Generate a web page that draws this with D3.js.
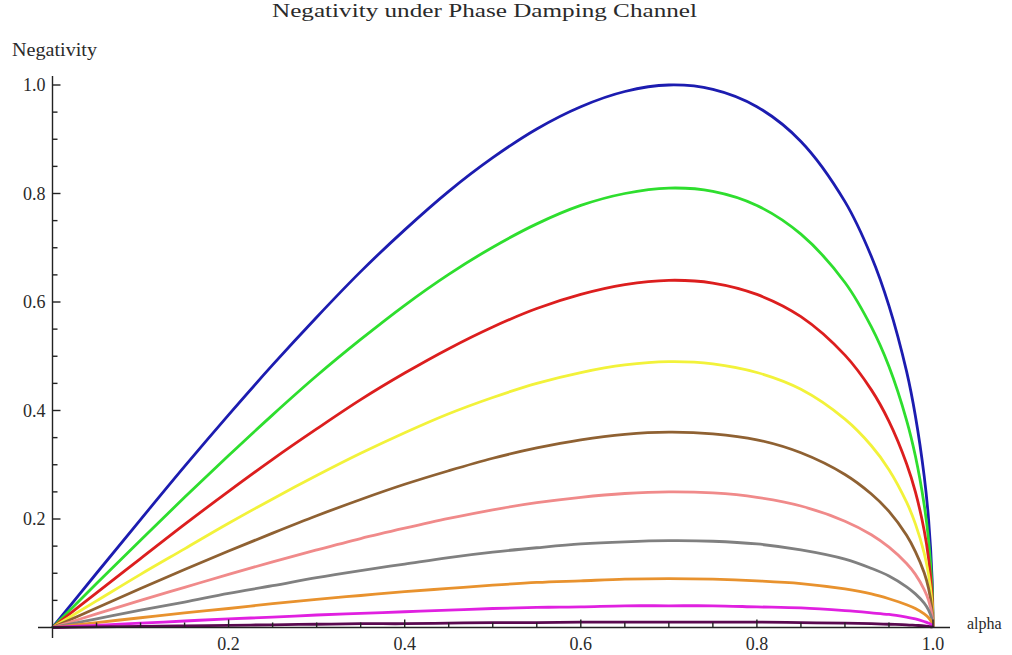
<!DOCTYPE html>
<html><head><meta charset="utf-8">
<script src="https://cdn.jsdelivr.net/npm/d3@7"></script>
<style>body{margin:0;background:#fff}svg{display:block}text{font-family:"Liberation Serif","DejaVu Serif",serif;fill:#2a2a2a}</style>
</head><body><svg id="c" width="1012" height="655"></svg>
<script>
const alpha = [0,0.05,0.1,0.15,0.2,0.25,0.3,0.35,0.4,0.45,0.5,0.55,0.6,0.65,0.7,0.75,0.8,0.85,0.9,0.93,0.95,0.97,0.98,0.99,0.995,0.999,1];
const blue    = [0,0.100,0.199,0.297,0.392,0.484,0.572,0.656,0.733,0.804,0.866,0.919,0.960,0.988,1.000,0.992,0.960,0.896,0.785,0.684,0.593,0.472,0.390,0.279,0.199,0.089,0];
const green   = [0,0.081,0.161,0.240,0.317,0.392,0.464,0.531,0.594,0.651,0.701,0.744,0.778,0.800,0.810,0.804,0.778,0.725,0.636,0.554,0.481,0.382,0.316,0.226,0.161,0.072,0];
const red     = [0,0.064,0.127,0.190,0.251,0.310,0.366,0.420,0.469,0.514,0.554,0.588,0.614,0.632,0.640,0.635,0.614,0.573,0.502,0.438,0.380,0.302,0.250,0.179,0.127,0.057,0];
const yellow  = [0,0.049,0.098,0.145,0.192,0.237,0.280,0.321,0.359,0.394,0.424,0.450,0.470,0.484,0.490,0.486,0.470,0.439,0.384,0.335,0.291,0.231,0.191,0.137,0.097,0.044,0];
const brown   = [0,0.036,0.072,0.107,0.141,0.174,0.206,0.236,0.264,0.289,0.312,0.331,0.346,0.356,0.360,0.357,0.346,0.322,0.282,0.246,0.214,0.170,0.140,0.101,0.072,0.032,0];
const pink    = [0,0.025,0.050,0.074,0.098,0.121,0.143,0.164,0.183,0.201,0.217,0.230,0.240,0.247,0.250,0.248,0.240,0.224,0.196,0.171,0.148,0.118,0.098,0.070,0.050,0.022,0];
const gray    = [0,0.016,0.032,0.047,0.063,0.077,0.092,0.105,0.117,0.129,0.139,0.147,0.154,0.158,0.160,0.159,0.154,0.143,0.126,0.109,0.095,0.075,0.062,0.045,0.032,0.014,0];
const orange  = [0,0.009,0.018,0.027,0.035,0.044,0.052,0.059,0.066,0.072,0.078,0.083,0.086,0.089,0.090,0.089,0.086,0.081,0.071,0.062,0.053,0.042,0.035,0.025,0.018,0.008,0];
const magenta = [0,0.004,0.008,0.012,0.016,0.019,0.023,0.026,0.029,0.032,0.035,0.037,0.038,0.040,0.040,0.040,0.038,0.036,0.031,0.027,0.024,0.019,0.016,0.011,0.008,0.004,0];
const purple  = [0,0.001,0.002,0.003,0.004,0.005,0.006,0.007,0.007,0.008,0.009,0.009,0.010,0.010,0.010,0.010,0.010,0.009,0.008,0.007,0.006,0.005,0.004,0.003,0.002,0.001,0];
const seriesList = [blue,green,red,yellow,brown,pink,gray,orange,magenta,purple];
const colors = ["#1c1cb0","#2ede2e","#dc1e1e","#f2f23a","#8f6132","#f08a8a","#808080","#e8922e","#e020e0","#5a0a50"];
const xTicks = [0.2,0.4,0.6,0.8,1.0];
const yTicks = [0.2,0.4,0.6,0.8,1.0];
const xTickLabels = ["0.2","0.4","0.6","0.8","1.0"];
const yTickLabels = ["0.2","0.4","0.6","0.8","1.0"];
const minorTicks = d3.range(1,21).map(i=>i*0.05);

const svg = d3.select("#c");
const x = d3.scaleLinear().domain([0,1]).range([52.5,933]);
const y = d3.scaleLinear().domain([0,1]).range([627.5,85]);

const line = d3.line().x((d,i)=>x(alpha[i])).y(d=>y(d)).curve(d3.curveCatmullRom.alpha(0.5));
svg.append("g").selectAll("path").data(seriesList).join("path")
  .attr("d", line).attr("fill","none")
  .attr("stroke",(d,i)=>colors[i]).attr("stroke-width",2.8)
  .attr("stroke-linejoin","round");

const ax = svg.append("g").attr("stroke","#222").attr("stroke-width",1.4);
ax.append("line").attr("x1",38).attr("x2",950).attr("y1",y(0)).attr("y2",y(0));
ax.append("line").attr("x1",x(0)).attr("x2",x(0)).attr("y1",76).attr("y2",638);

minorTicks.forEach(v=>{
  const major = Math.abs(v*5-Math.round(v*5))<1e-6;
  ax.append("line").attr("x1",x(v)).attr("x2",x(v)).attr("y1",y(0)).attr("y2",y(0)-(major?8:5));
  ax.append("line").attr("x1",x(0)).attr("x2",x(0)+(major?8:5)).attr("y1",y(v)).attr("y2",y(v));
});

svg.append("g").selectAll("text").data(xTicks).join("text")
  .attr("x",d=>x(d)).attr("y",y(0)+22.5).attr("text-anchor","middle")
  .attr("font-size",18).text((d,i)=>xTickLabels[i]);
svg.append("g").selectAll("text").data(yTicks).join("text")
  .attr("x",x(0)-7).attr("y",d=>y(d)+6).attr("text-anchor","end")
  .attr("font-size",18).text((d,i)=>yTickLabels[i]);

svg.append("text").attr("x",272).attr("y",17).attr("font-size",19)
  .attr("textLength",425).attr("lengthAdjust","spacingAndGlyphs")
  .text("Negativity under Phase Damping Channel");
svg.append("text").attr("x",12).attr("y",56).attr("font-size",19)
  .attr("textLength",85).attr("lengthAdjust","spacingAndGlyphs").text("Negativity");
svg.append("text").attr("x",967).attr("y",629).attr("font-size",16).text("alpha");
</script></body></html>
